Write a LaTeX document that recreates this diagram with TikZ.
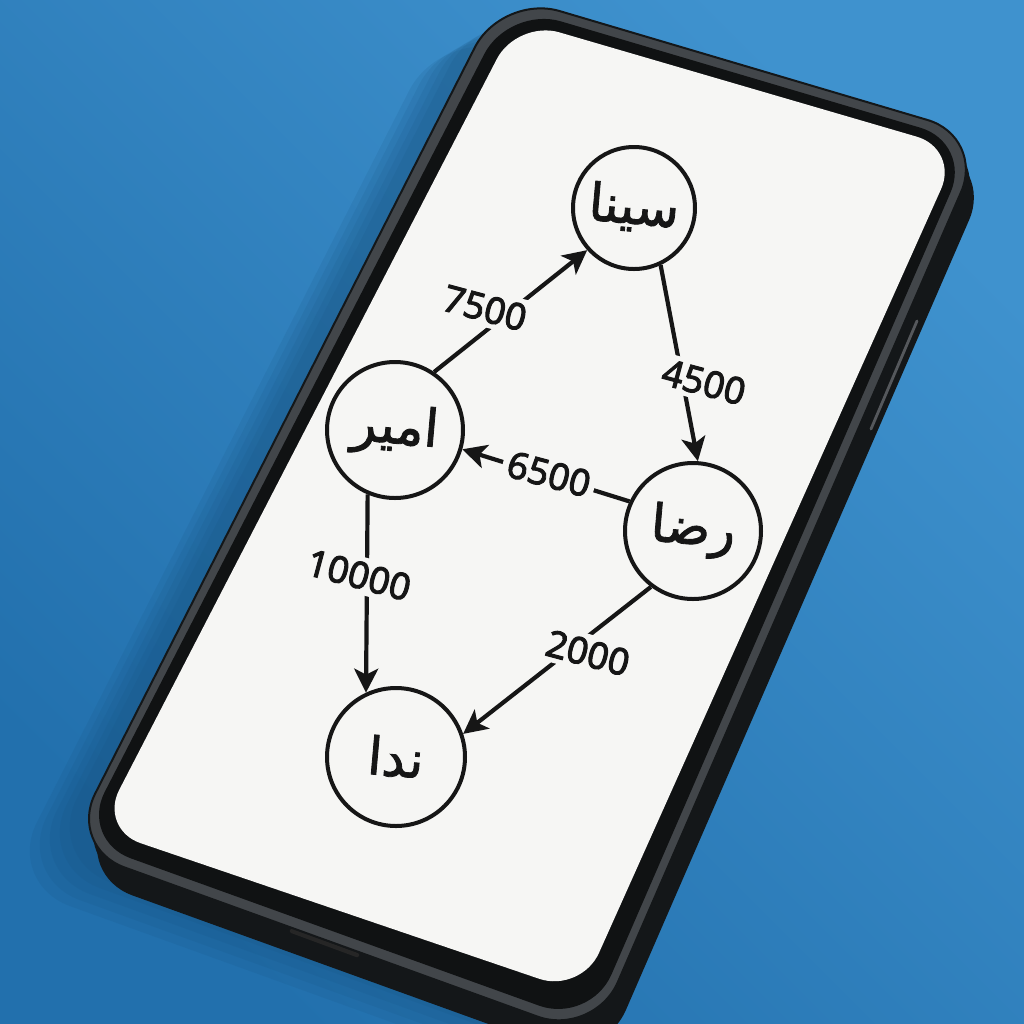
\documentclass[tikz,border=0pt]{standalone}
\usepackage{fontspec}
\setmainfont{Noto Sans}[FakeBold=2.6]
\newfontfamily\arabicfont[Script=Arabic,FakeBold=1.6]{DejaVu Sans}
\TeXXeTstate=1
\usetikzlibrary{arrows.meta,calc}

\definecolor{deskblue}{HTML}{2B7CBA}
\definecolor{deskbluelight}{HTML}{3F92CE}
\definecolor{deskbluedark}{HTML}{2270AD}
\definecolor{shadowblue}{HTML}{154E7A}
\definecolor{bodyblack}{HTML}{141719}
\definecolor{rimgray}{HTML}{42464A}
\definecolor{bezel}{HTML}{101213}
\definecolor{screenwhite}{HTML}{F6F6F4}
\definecolor{ink}{HTML}{161616}

% Persian name, set right to left
\newcommand\fa[1]{{\arabicfont\beginR #1\endR}}

% rounded quadrilateral through four corners, moved by an offset
\newcommand\slab[6]{%
  \path[#6] ($(#1)!0.5!(#2)+(#5)$) -- ($(#2)+(#5)$) -- ($(#3)+(#5)$)
    -- ($(#4)+(#5)$) -- ($(#1)+(#5)$) -- cycle;}

\tikzset{
  person/.style={circle, draw=ink, line width=2pt, fill=screenwhite,
    inner sep=0pt, text=ink, font=\fontsize{26}{30}\selectfont},
  flow/.style={draw=ink, line width=2.1pt,
    -{Stealth[length=12pt,width=12pt,inset=3pt]}},
  amount/.style={fill=screenwhite, inner sep=2.5pt, rotate=-15, text=ink,
    font=\fontsize{18.5}{20}\selectfont},
}

\begin{document}
\begin{tikzpicture}[x=0.5pt,y=-0.5pt]
\useasboundingbox (0,0) rectangle (1024,1024);
\clip (0,0) rectangle (1024,1024);

% desk
\shade[top color=deskbluelight, bottom color=deskbluedark, shading angle=-45]
  (0,0) rectangle (1024,1024);

% phone outline corners: front face, inner bezel, screen
\coordinate (F1) at (502,-6);  \coordinate (F2) at (985,137);
\coordinate (F3) at (594,1037); \coordinate (F4) at (68,847);
\coordinate (G1) at (509,6);   \coordinate (G2) at (972,143);
\coordinate (G3) at (590,1024); \coordinate (G4) at (80,840);
\coordinate (S1) at (517,20);  \coordinate (S2) at (959,149);
\coordinate (S3) at (581,993); \coordinate (S4) at (99,829);

% soft cast shadow
\foreach \dx/\dy in {-62/36,-52/30,-42/24,-32/18,-22/12}{
  \slab{F1}{F2}{F3}{F4}{\dx,\dy}{fill=shadowblue, fill opacity=0.12, rounded corners=34pt}
}

% body with its visible side
\slab{F1}{F2}{F3}{F4}{8,28}{fill=bodyblack, rounded corners=30pt}
\slab{F1}{F2}{F3}{F4}{4,14}{fill=bodyblack, rounded corners=30pt}
% side button and speaker slot
\draw[line width=3.2pt, line cap=round, bodyblack] (917,321) -- (871,429);
\draw[line width=1.4pt, line cap=round, rimgray!90!white] (917,321) -- (871,429);
\draw[line width=2.2pt, line cap=round, black!85] (292,931) -- (357,955);
% front rim, bezel, screen
\slab{F1}{F2}{F3}{F4}{0,0}{fill=rimgray, draw=bodyblack, line width=1pt, rounded corners=30pt}
\slab{G1}{G2}{G3}{G4}{0,0}{fill=bezel, rounded corners=27pt}
\slab{S1}{S2}{S3}{S4}{0,0}{fill=screenwhite, rounded corners=22pt}

% people
\node[person, minimum size=61pt] (sina) at (634,208) {\rotatebox{-5}{\fa{سینا}}};
\node[person, minimum size=68pt] (amir) at (395,430) {\rotatebox{-5}{\fa{امیر}}};
\node[person, minimum size=68pt] (reza) at (693,531) {\rotatebox{-5}{\fa{رضا}}};
\node[person, minimum size=69pt] (nida) at (396,757) {\rotatebox{-5}{\fa{ندا}}};

% transfers
\draw[flow] (amir.56)  -- (sina.222);
\draw[flow] (sina.295) -- (reza.86);
\draw[flow] (reza.155) -- (amir.344);
\draw[flow] (amir.247) -- (nida.115);
\draw[flow] (reza.233) -- (nida.19);

% amounts
\node[amount] (a7500)  at (485,308) {7500};
\node[amount] (a4500)  at (704,382) {4500};
\node[amount] (a6500)  at (549,474) {6500};
\node[amount] (a10000) at (359,575) {10000};
\node[amount] (a2000)  at (588,653) {2000};
\end{tikzpicture}
\end{document}
